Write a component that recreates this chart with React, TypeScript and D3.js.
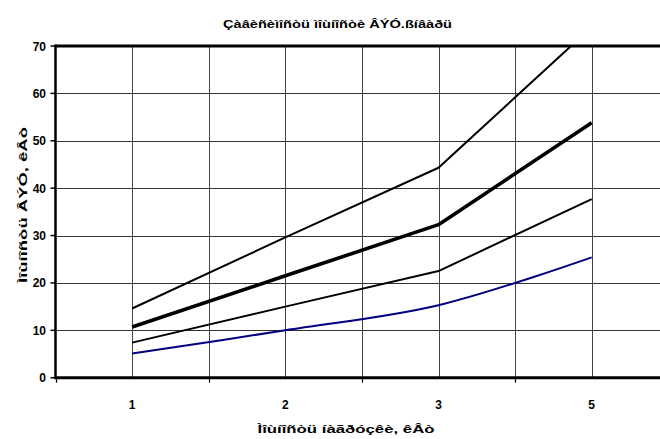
import React from "react";
import * as d3 from "d3";

const categories = ["1", "2", "3", "5"];
const yTicks = [0, 10, 20, 30, 40, 50, 60, 70];
const seriesUpper = [14.6, 29.6, 44.3, 74.0];
const seriesThick = [10.7, 21.5, 32.3, 53.8];
const seriesLower = [7.4, 15.0, 22.5, 37.7];
const seriesBlue = [5.1, 10.0, 15.3, 25.4];

const titleText = "Çàâèñèìîñòü ìîùíîñòè ÂÝÓ.ßíâàðü";
const yLabelText = "Ìîùíîñòü ÂÝÓ, êÂò";
const xLabelText = "Ìîùíîñòü íàãðóçêè, êÂò";

const W = 660;
const H = 439;
const left = 55.5;
const top = 46;
const bottom = 377.7;
const step = 153.2;

export default function App() {
  const x = d3
    .scaleBand<string>()
    .domain(categories)
    .range([left, left + step * categories.length])
    .padding(0);
  const y = d3.scaleLinear().domain([0, 70]).range([bottom, top]);
  const cx = (c: string) => (x(c) as number) + x.bandwidth() / 2;

  const straight = d3
    .line<number>()
    .x((_, i) => cx(categories[i]))
    .y((d) => y(d));
  const smooth = d3
    .line<number>()
    .x((_, i) => cx(categories[i]))
    .y((d) => y(d))
    .curve(d3.curveCatmullRom.alpha(0.5));

  // vertical grid at category centers and boundaries
  const vGrid: number[] = [];
  categories.forEach((c) => {
    vGrid.push(x(c) as number);
    vGrid.push(cx(c));
  });
  vGrid.push(left + step * categories.length);

  const font = "'Liberation Sans', Arial, sans-serif";

  return (
    <svg
      width={W}
      height={H}
      style={{ position: "absolute", left: 0, top: 0, background: "#fff" }}
    >
      <defs>
        <clipPath id="plotClip">
          <rect x={left} y={top} width={W - left} height={bottom - top} />
        </clipPath>
      </defs>
      <text
        x={337.5}
        y={28}
        textAnchor="middle"
        fontFamily={font}
        fontWeight="bold"
        fontSize={11.5}
        textLength={229}
        lengthAdjust="spacingAndGlyphs"
      >
        {titleText}
      </text>

      {/* grid */}
      {yTicks.slice(1, -1).map((t) => (
        <line
          key={"h" + t}
          x1={left}
          x2={W}
          y1={Math.round(y(t)) + 0.5}
          y2={Math.round(y(t)) + 0.5}
          stroke="#333"
          strokeWidth={1}
        />
      ))}
      {vGrid.slice(1).map((v, i) => (
        <line
          key={"v" + i}
          x1={Math.round(v) + 0.5}
          x2={Math.round(v) + 0.5}
          y1={top}
          y2={bottom}
          stroke="#444"
          strokeWidth={1}
        />
      ))}

      {/* series */}
      <g clipPath="url(#plotClip)" fill="none" strokeLinejoin="round">
        <path d={straight(seriesUpper) || ""} stroke="#000" strokeWidth={2} />
        <path d={straight(seriesThick) || ""} stroke="#000" strokeWidth={3.6} />
        <path d={straight(seriesLower) || ""} stroke="#000" strokeWidth={2} />
        <path d={smooth(seriesBlue) || ""} stroke="#000080" strokeWidth={2} />
      </g>

      {/* frame and axes */}
      <line x1={left} x2={W} y1={top} y2={top} stroke="#000" strokeWidth={3} />
      <line x1={left} x2={W} y1={bottom} y2={bottom} stroke="#000" strokeWidth={3} />
      <line x1={left} x2={left} y1={top - 1.5} y2={bottom + 1.5} stroke="#000" strokeWidth={2.5} />

      {yTicks.map((t) => (
        <g key={"yt" + t}>
          <line x1={left - 5} x2={left} y1={y(t)} y2={y(t)} stroke="#000" strokeWidth={1.5} />
          <text
            x={46}
            y={y(t) + 4.5}
            textAnchor="end"
            fontFamily={font}
            fontWeight="bold"
            fontSize={12}
          >
            {t}
          </text>
        </g>
      ))}
      {vGrid
        .filter((_, i) => i % 2 === 0)
        .map((v, i) => (
          <line
            key={"xt" + i}
            x1={Math.round(v) + 0.5}
            x2={Math.round(v) + 0.5}
            y1={bottom}
            y2={bottom + 5}
            stroke="#000"
            strokeWidth={1.2}
          />
        ))}
      {categories.map((c) => (
        <text
          key={"xl" + c}
          x={cx(c)}
          y={409}
          textAnchor="middle"
          fontFamily={font}
          fontWeight="bold"
          fontSize={12}
        >
          {c}
        </text>
      ))}

      <text
        x={346}
        y={433}
        textAnchor="middle"
        fontFamily={font}
        fontWeight="bold"
        fontSize={11.5}
        textLength={177}
        lengthAdjust="spacingAndGlyphs"
      >
        {xLabelText}
      </text>
      <text
        transform={`translate(27, 205) rotate(-90)`}
        textAnchor="middle"
        fontFamily={font}
        fontWeight="bold"
        fontSize={11.5}
        textLength={156}
        lengthAdjust="spacingAndGlyphs"
      >
        {yLabelText}
      </text>
    </svg>
  );
}
